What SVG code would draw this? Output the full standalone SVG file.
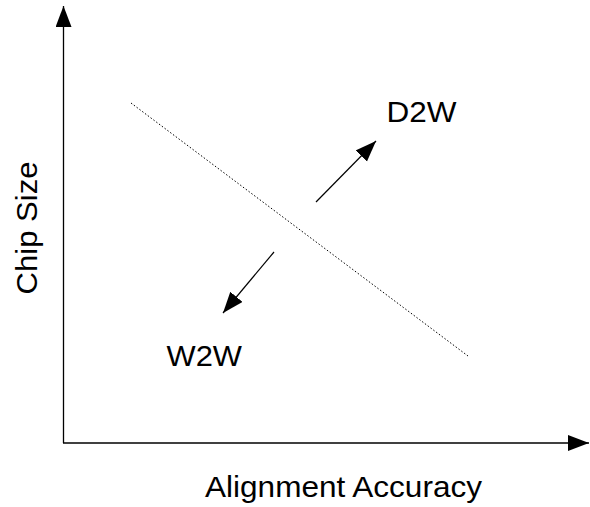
<svg xmlns="http://www.w3.org/2000/svg" width="590" height="507" viewBox="0 0 590 507">
<style>
text{font-family:"Liberation Sans",Arial,sans-serif;font-size:30px;fill:#000}
.ax{stroke:#000;stroke-width:1.3;fill:none}
.ar{stroke:#000;stroke-width:1.2;fill:none}
</style>
<defs>
<marker id="ah" markerUnits="userSpaceOnUse" markerWidth="22" markerHeight="18" refX="21" refY="8" orient="auto">
<path d="M0,0 L21,8 L0,16 Z" fill="#000"/>
</marker>
</defs>
<rect width="590" height="507" fill="#fff"/>
<g id="connectors">
<line class="ax" x1="63.5" y1="443" x2="63.5" y2="6" marker-end="url(#ah)"/>
<line class="ax" x1="63" y1="443" x2="589" y2="443" marker-end="url(#ah)"/>
<line x1="131" y1="103" x2="468" y2="356" stroke="#000" stroke-width="1" stroke-dasharray="1.5,2"/>
<line class="ar" x1="316" y1="202" x2="376" y2="141" marker-end="url(#ah)"/>
<line class="ar" x1="274" y1="252" x2="223" y2="313" marker-end="url(#ah)"/>
</g>
<g id="d2w"><text x="386.5" y="121.5" textLength="70" lengthAdjust="spacingAndGlyphs">D2W</text></g>
<g id="w2w"><text x="166.5" y="365.5" textLength="75.5" lengthAdjust="spacingAndGlyphs">W2W</text></g>
<g id="ylabel"><text transform="translate(36.5,294.5) rotate(-90)" textLength="133" lengthAdjust="spacingAndGlyphs">Chip Size</text></g>
<g id="xlabel"><text x="205" y="497" textLength="277" lengthAdjust="spacingAndGlyphs">Alignment Accuracy</text></g>
</svg>
